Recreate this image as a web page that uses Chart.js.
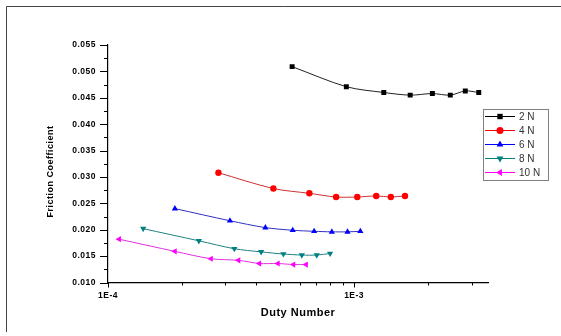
<!DOCTYPE html>
<html><head><meta charset="utf-8">
<script src="https://cdn.jsdelivr.net/npm/chart.js@4/dist/chart.umd.min.js"></script>
<style>html,body{margin:0;padding:0;background:#fff;}#wrap{width:561px;height:336px;position:relative;}</style>
</head><body><div id="wrap"><canvas id="c" width="561" height="336"></canvas></div>
<script>
// ---- data ----
const seriesNames = ['2 N', '4 N', '6 N', '8 N', '10 N'];
const x2 = [5.6e-4, 9.3e-4, 1.32e-3, 1.69e-3, 2.08e-3, 2.46e-3, 2.83e-3, 3.21e-3];
const y2 = [0.0509, 0.0471, 0.0460, 0.0455, 0.0458, 0.0455, 0.0463, 0.0460];
const x4 = [2.81e-4, 4.70e-4, 6.58e-4, 8.45e-4, 1.03e-3, 1.23e-3, 1.41e-3, 1.61e-3];
const y4 = [0.0308, 0.0278, 0.0269, 0.0262, 0.0262, 0.0264, 0.0262, 0.0264];
const x6 = [1.87e-4, 3.13e-4, 4.36e-4, 5.63e-4, 6.88e-4, 8.12e-4, 9.40e-4, 1.06e-3];
const y6 = [0.0240, 0.0217, 0.0204, 0.0199, 0.0197, 0.0196, 0.0196, 0.0197];
const x8 = [1.39e-4, 2.34e-4, 3.26e-4, 4.19e-4, 5.16e-4, 6.13e-4, 7.05e-4, 7.99e-4];
const y8 = [0.0202, 0.0179, 0.0164, 0.0158, 0.0154, 0.0152, 0.0152, 0.0155];
const x10 = [1.11e-4, 1.87e-4, 2.62e-4, 3.39e-4, 4.12e-4, 4.90e-4, 5.67e-4, 6.38e-4];
const y10 = [0.0182, 0.0159, 0.0145, 0.0142, 0.0136, 0.0136, 0.0134, 0.0134];
const xMajorTicks = [1e-4, 1e-3];
const xTickLabels = ['1E-4', '1E-3'];
const xMinorTicks = [2e-4,3e-4,4e-4,5e-4,6e-4,7e-4,8e-4,9e-4,2e-3,3e-3];
const yMajorTicks = [0.010,0.015,0.020,0.025,0.030,0.035,0.040,0.045,0.050,0.055];
const yTickLabels = ['0.010','0.015','0.020','0.025','0.030','0.035','0.040','0.045','0.050','0.055'];
const yMinorTicks = [0.0125,0.0175,0.0225,0.0275,0.0325,0.0375,0.0425,0.0475,0.0525];
const xTitle = 'Duty Number';
const yTitle = 'Friction Coefficient';

// ---- styles ----
const colors = ['#000000', '#ff0000', '#0000ff', '#008080', '#ff00ff'];
const lineColors = ['#222222', '#d03030', '#3030c0', '#208080', '#e030e0'];
const styles = ['rect', 'circle', 'triangle', 'triangle', 'triangle'];
const rotations = [0, 0, 0, 180, -90];
const radii = [3.5, 3.2, 3.6, 3.6, 3.6];
const xs = [x2, x4, x6, x8, x10];
const ys = [y2, y4, y6, y8, y10];

const datasets = seriesNames.map((n, i) => ({
  label: n,
  data: xs[i].map((x, j) => ({x: x, y: ys[i][j]})),
  borderColor: lineColors[i],
  backgroundColor: colors[i],
  pointBackgroundColor: colors[i],
  pointBorderColor: colors[i],
  pointBorderWidth: 0,
  borderWidth: 1,
  pointStyle: styles[i],
  pointRotation: rotations[i],
  pointRadius: radii[i],
  tension: 0.3,
  showLine: true
}));

const tickFont = {family: 'Liberation Sans', size: 8.5, weight: 'bold'};

const deco = {
  id: 'deco',
  beforeDraw(chart) {
    const ctx = chart.ctx;
    ctx.save();
    ctx.strokeStyle = '#444';
    ctx.lineWidth = 1;
    ctx.beginPath();
    ctx.moveTo(6.5, 332);
    ctx.lineTo(6.5, 6.5);
    ctx.lineTo(561, 6.5);
    ctx.stroke();
    ctx.restore();
    ctx.letterSpacing = '0.5px';
  },
  beforeDatasetsDraw(chart) {
    chart.ctx.letterSpacing = '0px';
  },
  afterDraw(chart) {
    const ctx = chart.ctx;
    const xs_ = chart.scales.x, ys_ = chart.scales.y;
    const ca = chart.chartArea;
    ctx.save();
    ctx.strokeStyle = '#000';
    ctx.lineWidth = 1;
    ctx.beginPath();
    xMajorTicks.forEach(v => { const p = Math.round(xs_.getPixelForValue(v)) + 0.5; ctx.moveTo(p, ca.bottom); ctx.lineTo(p, ca.bottom + 5); });
    xMinorTicks.forEach(v => { const p = Math.round(xs_.getPixelForValue(v)) + 0.5; ctx.moveTo(p, ca.bottom); ctx.lineTo(p, ca.bottom + 3); });
    yMajorTicks.forEach(v => { const p = Math.round(ys_.getPixelForValue(v)) + 0.5; ctx.moveTo(ca.left, p); ctx.lineTo(ca.left - 8, p); });
    yMinorTicks.forEach(v => { const p = Math.round(ys_.getPixelForValue(v)) + 0.5; ctx.moveTo(ca.left, p); ctx.lineTo(ca.left - 4, p); });
    ctx.stroke();

    // y title
    ctx.save();
    ctx.letterSpacing = '0.5px';
    ctx.fillStyle = '#000';
    ctx.font = 'bold 9px "Liberation Sans"';
    ctx.textAlign = 'center';
    ctx.textBaseline = 'middle';
    ctx.translate(51, 171.5);
    ctx.rotate(-Math.PI / 2);
    ctx.fillText(yTitle, 0, 0);
    ctx.restore();

    // legend
    ctx.letterSpacing = '0px';
    const bx = 483.5, by = 109.5, bw = 65, bh = 71;
    ctx.strokeStyle = '#808080';
    ctx.strokeRect(bx, by, bw, bh);
    ctx.font = '10px "Liberation Sans"';
    ctx.textBaseline = 'middle';
    ctx.textAlign = 'left';
    chart.data.datasets.forEach((ds, i) => {
      const yy = 116.5 + i * 14;
      ctx.strokeStyle = colors[i];
      ctx.lineWidth = 1;
      ctx.beginPath(); ctx.moveTo(485, yy); ctx.lineTo(515, yy); ctx.stroke();
      ctx.fillStyle = colors[i];
      const opts = {pointStyle: styles[i], rotation: rotations[i], radius: radii[i] + 0.3, borderWidth: 0};
      if (Chart.helpers && Chart.helpers.drawPoint) Chart.helpers.drawPoint(ctx, opts, 500, yy);
      ctx.fillStyle = '#333';
      ctx.fillText(ds.label, 519, yy + 0.5);
    });
    ctx.restore();
  }
};

new Chart(document.getElementById('c'), {
  type: 'scatter',
  data: {datasets: datasets},
  plugins: [deco],
  options: {
    responsive: false,
    animation: false,
    devicePixelRatio: 1,
    layout: {padding: {left: 0, top: 45, right: 73, bottom: 0}},
    plugins: {legend: {display: false}, tooltip: {enabled: false}},
    scales: {
      x: {
        type: 'logarithmic',
        min: 1e-4, max: 3.5e-3,
        afterFit(s) { s.height = 53.5; },
        afterBuildTicks(s) { s.ticks = xMajorTicks.map(v => ({value: v})); },
        ticks: {
          autoSkip: false, maxRotation: 0, padding: 3, color: '#000', font: tickFont,
          callback: (v) => { const k = xMajorTicks.indexOf(v); return k >= 0 ? xTickLabels[k] : ''; }
        },
        grid: {display: true, drawOnChartArea: false, drawTicks: true, tickLength: 5, color: 'rgba(0,0,0,0)'},
        border: {display: true, color: '#000', width: 1.2},
        title: {display: true, text: xTitle, color: '#000', font: {family: 'Liberation Sans', size: 11, weight: 'bold'}, padding: {top: 0, bottom: 16}}
      },
      y: {
        min: 0.010, max: 0.055,
        afterFit(s) { s.width = 108; },
        afterBuildTicks(s) { s.ticks = yMajorTicks.map(v => ({value: v})); },
        ticks: {
          autoSkip: false, padding: 4, color: '#000', font: tickFont,
          callback: (v, idx) => yTickLabels[idx]
        },
        grid: {display: true, drawOnChartArea: false, drawTicks: true, tickLength: 8, color: 'rgba(0,0,0,0)'},
        border: {display: true, color: '#000', width: 1.2},
        title: {display: false}
      }
    }
  }
});
</script></body></html>
